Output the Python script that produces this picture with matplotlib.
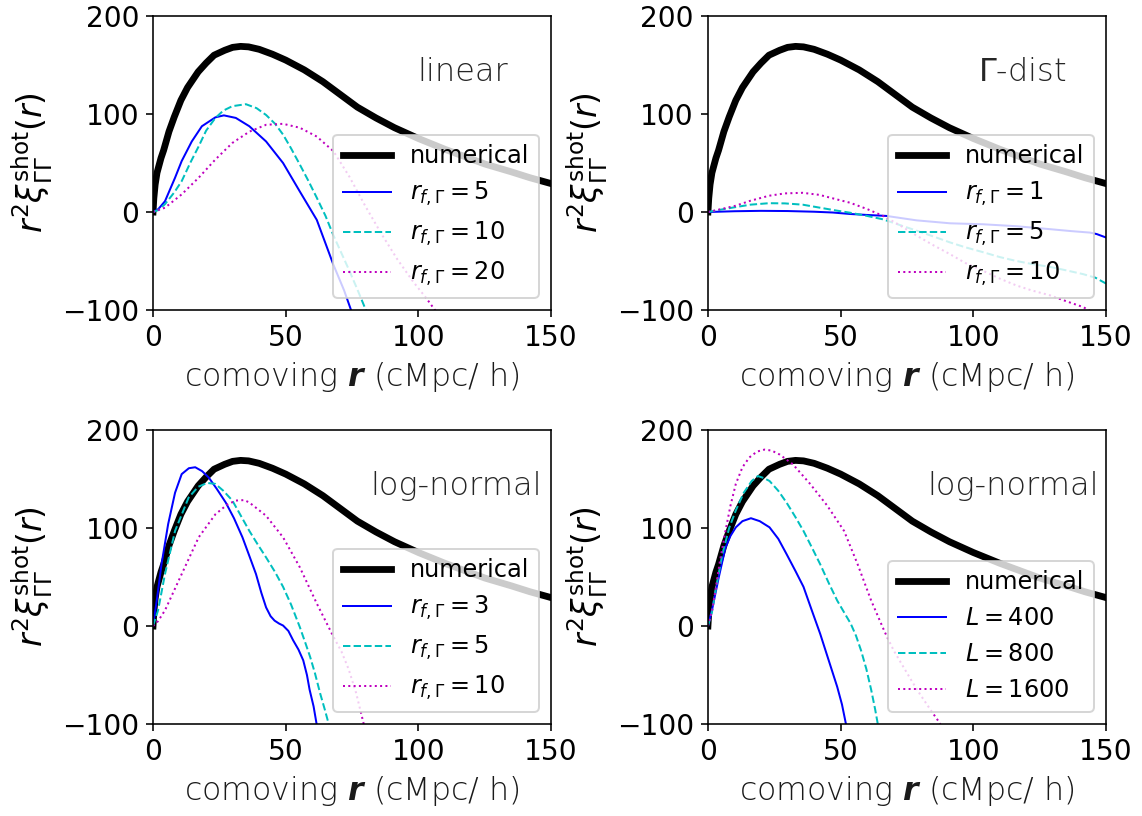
import matplotlib
matplotlib.use('Agg')
import matplotlib.pyplot as plt

matplotlib.rcParams.update({'font.size': 12})

# numerical result (same curve in every panel)
r_num = [0, 0.3, 0.8, 1.5, 3, 4, 6, 8, 10.5, 13, 17, 20, 23, 27, 30, 33, 36, 40, 45, 50, 57, 64,
         70, 77, 84, 91, 100, 110, 118, 125, 135, 142, 150]
xi_num = [0, 14, 28, 40, 55, 63, 82, 97, 114, 127, 143, 152, 160, 165, 168, 169, 168.5, 166, 161,
          155, 145, 133, 121, 107, 96, 86, 75, 64, 56, 49, 41, 35, 29]

# linear, r_f = 5, 10, 20
r_lin5 = [0, 2, 4.5, 8.3, 10.8, 14.6, 18.4, 23.5, 26.7, 31.2, 36.3, 42.6, 49, 55.3, 61.7, 68, 72, 75]
xi_lin5 = [0, 3, 11, 35, 52, 72, 87.5, 96.6, 98.6, 96, 87.5, 72, 50, 21, -8, -54, -80, -103]
r_lin10 = [0, 2, 4.5, 8, 10.8, 14, 17.2, 20, 23.5, 26.5, 29.9, 35, 39, 42.6, 46, 49, 52, 55.3,
           58.5, 61.7, 65, 68, 71, 74, 77, 80.5]
xi_lin10 = [0, 2, 8, 20, 31.5, 50, 67, 83, 96, 103.5, 108, 110, 106, 99, 90, 79, 65, 48.5,
            32, 14.6, -4, -24, -42, -60, -79, -102]
r_lin20 = [0, 4.5, 10.8, 17.2, 23.5, 29.9, 36.3, 42.6, 49, 55.3, 61.7, 68, 74, 80, 86, 92, 98, 103, 106.5]
xi_lin20 = [0, 4.4, 18, 35, 53.6, 70.5, 82, 89, 90, 86, 77, 62, 36, 6, -22, -48, -71, -88, -101]

# Gamma-dist, r_f = 1, 5, 10
r_g1 = [0, 10, 20, 30, 40, 47, 53.5, 60, 67.3, 78.6, 91.2, 103.7, 116.3, 128.9, 137, 144, 146.5, 150]
xi_g1 = [0, 0.8, 1.2, 1, 0.3, -0.5, -2, -3, -4, -8.5, -11.5, -12.5, -14.5, -17.5, -19.5, -21, -22.5, -26]
r_g5 = [0, 5, 10.4, 16, 23, 29, 35.7, 42, 48.4, 53.5, 60, 66, 72, 78.6, 85, 91.2, 97, 103.7,
        110, 116.3, 122, 128.9, 135, 141.4, 146, 150]
xi_g5 = [0, 2.5, 5, 7.5, 9, 8.8, 7.5, 4.5, 1.5, -0.7, -4, -7.5, -13, -19, -25, -31, -36, -41,
         -46, -50, -53, -56, -59.5, -63.4, -67, -73]
r_g10 = [0, 5, 10.4, 16, 23, 29, 35.7, 42, 48.4, 53.5, 60, 66, 72, 78.6, 85, 91.2, 97, 103.7,
         110, 116.3, 122, 128.9, 135, 141.4, 144]
xi_g10 = [0, 3, 6.4, 11.5, 16.6, 19, 19.6, 17.5, 13, 9.5, 3, -4, -13, -24, -34, -43, -52, -60,
          -68, -75, -80, -85, -91, -97, -101]

# log-normal, r_f = 3, 5, 10
r_ln3 = [0, 1.5, 3.2, 5.7, 8.3, 10.8, 13.5, 15.9, 18.5, 21, 24, 27.4, 30.5, 33.7, 36.5, 38.8,
         40.8, 42.6, 44.3, 45.8, 47.5, 49, 51, 52.8, 54.8, 56.6, 58, 59, 60.5, 61.7]
xi_ln3 = [0, 28, 63, 104, 136, 155, 161, 162, 158, 151.5, 140, 126, 110, 90.5, 70, 53,
          34, 19, 10, 5.5, 2.5, 0.5, -5, -14.6, -24, -35, -50, -65, -82, -101]
r_ln5 = [0, 1.9, 4.5, 8.3, 13.4, 17, 20.4, 23.5, 26.5, 29.9, 33, 36.3, 39.5, 42.6, 46, 49, 52,
         55.3, 57.5, 59.2, 61, 63, 64.7, 66.2]
xi_ln5 = [0, 16, 53, 97, 131, 142, 146, 145, 138, 128, 113, 97, 83, 70, 55, 40, 22,
          -1, -18, -31.5, -48, -69, -85, -100]
r_ln10 = [0, 1.9, 4.5, 10.8, 17.2, 23.5, 28, 31.2, 34.4, 36.3, 42.6, 49, 55.3, 61.7, 68, 71,
          73.7, 76.5, 79.4]
xi_ln10 = [0, 5, 16, 53, 90.5, 114, 124, 128, 128.5, 126, 112.5, 90.5, 60, 23, -11, -26,
           -44, -68, -100]

# log-normal, L = 400, 800, 1600
r_L400 = [0, 1.5, 4.1, 6.6, 8.5, 10.5, 13, 16.2, 19.5, 23.2, 26.5, 29.6, 33, 36, 39, 42.3,
          45.5, 48.7, 50.5, 52]
xi_L400 = [0, 16, 50, 80, 92, 100.7, 107, 110, 107, 100.7, 89, 73.5, 56, 40, 17, -8,
           -35, -62, -80, -100]
r_L800 = [0, 1.5, 3, 5.4, 8, 10.5, 13.5, 16.5, 18.8, 21, 23.2, 26.5, 29.6, 33, 36, 39, 42.3,
          45.5, 48.7, 51.5, 53.8, 55.8, 57.7, 59.7, 61.5, 63, 64]
xi_L800 = [0, 14, 38, 73, 100, 118, 136, 148, 153, 151, 148, 138, 126, 111, 97, 81, 63,
           44, 26, 13, 2.4, -10, -25, -44, -65, -85, -100]
r_L1600 = [0, 1.5, 2.8, 4.5, 6.6, 8.5, 10.5, 13, 15.6, 18.5, 21.3, 24, 27, 32, 38.5, 44.9,
           51.3, 56.4, 61.5, 66.6, 70, 73.7, 77, 80, 84, 87.6]
xi_L1600 = [0, 15, 36, 66, 97, 123, 145, 162, 172, 178, 180, 179, 175, 165, 145, 123,
            97, 63, 26, -6, -25, -42, -57, -70, -86, -100]

panels = [
    ('linear', [(r_lin5, xi_lin5, r'$r_{f,\Gamma}=5$'), (r_lin10, xi_lin10, r'$r_{f,\Gamma}=10$'),
                (r_lin20, xi_lin20, r'$r_{f,\Gamma}=20$')], 0.892),
    (r'$\Gamma$-dist', [(r_g1, xi_g1, r'$r_{f,\Gamma}=1$'), (r_g5, xi_g5, r'$r_{f,\Gamma}=5$'),
                        (r_g10, xi_g10, r'$r_{f,\Gamma}=10$')], 0.90),
    ('log-normal', [(r_ln3, xi_ln3, r'$r_{f,\Gamma}=3$'), (r_ln5, xi_ln5, r'$r_{f,\Gamma}=5$'),
                    (r_ln10, xi_ln10, r'$r_{f,\Gamma}=10$')], 0.977),
    ('log-normal', [(r_L400, xi_L400, r'$L=400$'), (r_L800, xi_L800, r'$L=800$'),
                    (r_L1600, xi_L1600, r'$L=1600$')], 0.981),
]
styles = [('b', '-'), ('c', '--'), ('m', ':')]

fig, axs = plt.subplots(2, 2, figsize=(1142/144, 816/144), dpi=144)
plt.subplots_adjust(left=0.134, right=0.9685, bottom=0.1127, top=0.9804, wspace=0.394, hspace=0.408)

for ax, (title, curves, tx) in zip(axs.flat, panels):
    ax.plot(r_num, xi_num, color='k', linewidth=3.4, label='numerical')
    for (r, xi, lab), (c, ls) in zip(curves, styles):
        ax.plot(r, xi, color=c, linestyle=ls, linewidth=1, label=lab)
    ax.set_xlim(0, 150)
    ax.set_ylim(-100, 200)
    ax.set_xticks([0, 50, 100, 150])
    ax.set_yticks([-100, 0, 100, 200])
    ax.tick_params(labelsize=14)
    ax.set_xlabel(r'comoving $\mathbfit{r}$ (cMpc/ h)', fontsize=15.8, color='0.1', fontweight='light')
    ax.set_ylabel(r'$r^2\xi^{\rm shot}_{\Gamma\Gamma}(r)$', fontsize=16.5)
    ax.text(tx, 0.779, title, transform=ax.transAxes, ha='right', va='baseline',
            fontsize=16, color='0.15', fontweight='light')
    ax.legend(loc='lower right', fontsize=12)

plt.savefig('out.png', dpi=144)
